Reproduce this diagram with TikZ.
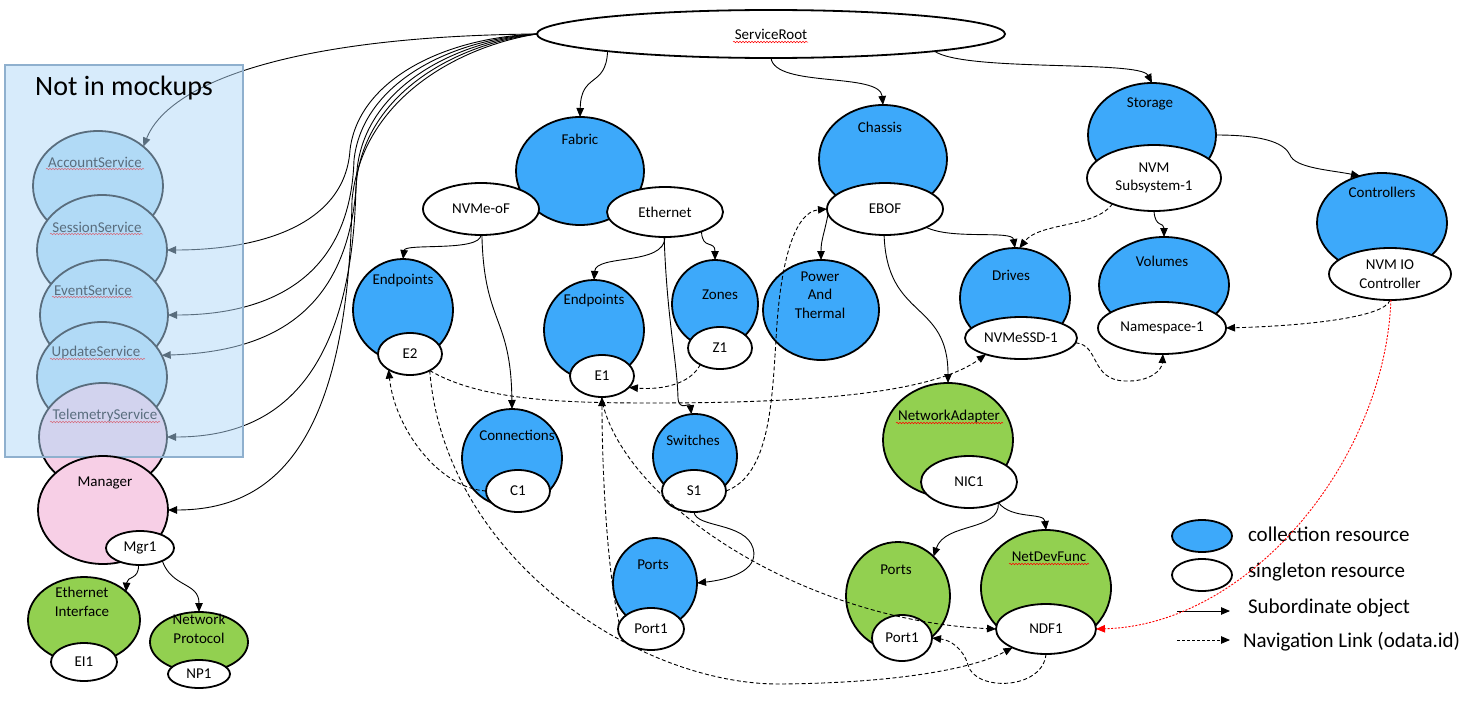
\documentclass[tikz,border=0pt]{standalone}
\usepackage{fontspec}
\setmainfont{Carlito}
\usetikzlibrary{arrows.meta,shapes.geometric,decorations.pathmorphing}
\definecolor{cblue}{RGB}{61,169,250}
\definecolor{cgreen}{RGB}{146,208,80}
\definecolor{cpink}{RGB}{247,207,230}
\definecolor{svcblue}{RGB}{180,222,246}
\definecolor{ovl}{RGB}{176,215,247}
\definecolor{ovlborder}{RGB}{143,176,206}
\begin{document}
\begin{tikzpicture}[x=1pt,y=-1pt,
  >={Triangle[length=9pt,width=7.5pt]},
  every node/.style={inner sep=0pt,outer sep=0pt},
  sz/.style 2 args={minimum width=#1pt,minimum height=#2pt},
  nf/.style={font=\fontsize{15}{18.5}\selectfont},
  lbl/.style={nf,align=center},
  coll/.style={ellipse,draw,line width=1.8pt,fill=cblue},
  svc/.style={ellipse,draw,line width=1.8pt,fill=svcblue},
  sing/.style={ellipse,draw,line width=1.8pt,fill=white,nf,align=center},
  sub/.style={->,line width=0.9pt},
  nav/.style={->,line width=0.9pt,dash pattern=on 4pt off 2.5pt},
  spell/.style={red,line width=0.5pt,decorate,decoration={snake,amplitude=0.8pt,segment length=3pt}},
  leg/.style={font=\fontsize{21}{25}\selectfont}]
\useasboundingbox (0,0) rectangle (1478,720);

% ---------- services (not in mockups) ----------
\node[svc,sz={130}{110}] (acct) at (98,186) {};
\node[lbl] (acctT) at (95,162) {AccountService};
\draw[spell] (46,169) -- (144,169);
\node[svc,sz={130}{110}] (sess) at (102,250) {};
\node[lbl] (sessT) at (97,227) {SessionService};
\draw[spell] (50,234) -- (143,234);
\node[svc,sz={128}{110}] (evt) at (104,315) {};
\node[lbl] (evtT) at (93,290) {EventService};
\draw[spell] (52,297) -- (133,297);
\node[svc,sz={130}{110}] (upd) at (102,377) {};
\node[lbl] (updT) at (96,352) {UpdateService};
\draw[spell] (50,359) -- (145,359);
\node[svc,fill=cpink,sz={128}{108}] (tele) at (103,437) {};
\node[lbl] (teleT) at (105,415) {TelemetryService};
\draw[spell] (50,422) -- (160,422);

% ---------- ServiceRoot ----------
\node[sing,sz={468}{48}] (sr) at (771,34) {ServiceRoot};
\draw[spell] (733,42) -- (808,42);

% edges into the box
\draw[sub] (sr.west) .. controls (300,36) and (170,80) .. (acct.41);
\draw[sub] (sr.west) .. controls (440,38) and (358,82) .. (350,150) .. controls (345,225) and (260,250) .. (sess.east);
\draw[sub] (sr.west) .. controls (445,40) and (362,86) .. (354,160) .. controls (350,285) and (260,315) .. (evt.east);
\draw[sub] (sr.west) .. controls (450,42) and (365,90) .. (357,170) .. controls (353,320) and (262,352) .. (upd.20);
\draw[sub] (sr.west) .. controls (455,44) and (364,94) .. (356,185) .. controls (352,395) and (262,437) .. (tele.east);

% overlay box
\fill[ovl,fill opacity=0.51] (5,65) rectangle (243,457);
\draw[ovlborder,line width=1.5pt] (5,65) rectangle (243,457);
\node[font=\fontsize{28}{32}\selectfont] (nim) at (124,88) {Not in mockups};

% ---------- Manager ----------
\node[ellipse,draw,line width=1.8pt,fill=cpink,sz={130}{108}] (mgr) at (103,510) {};
\node[lbl] (mgrT) at (105,483) {Manager};
\node[sing,sz={68}{34}] (mgr1) at (140,548) {Mgr1};
\node[coll,fill=cgreen,sz={112}{86}] (ei) at (84,620) {};
\node[lbl] (eiT) at (82,602) {Ethernet\\Interface};
\node[sing,sz={66}{38}] (ei1) at (84,662) {EI1};
\node[coll,fill=cgreen,sz={98}{60}] (np) at (199,642) {};
\node[lbl] (npT) at (199,629) {Network\\Protocol};
\node[sing,sz={62}{28}] (np1) at (199,674) {NP1};

% ---------- Fabric ----------
\node[coll,sz={128}{108}] (fabric) at (580,171) {};
\node[lbl] (fabricT) at (580,139) {Fabric};
\node[sing,sz={116}{52}] (nvmeof) at (481,209) {NVMe-oF};
\node[sing,sz={116}{50}] (eth) at (665,212) {Ethernet};
\node[coll,sz={100}{102}] (ep2) at (403,310) {};
\node[lbl] (ep2T) at (403,280) {Endpoints};
\node[sing,sz={64}{42}] (e2) at (410,354) {E2};
\node[coll,sz={100}{100}] (ep1) at (594,330) {};
\node[lbl] (ep1T) at (594,300) {Endpoints};
\node[sing,sz={64}{42}] (e1) at (602,376) {E1};
\node[coll,sz={86}{88}] (zones) at (715,304) {};
\node[lbl] (zonesT) at (720,295) {Zones};
\node[sing,sz={64}{42}] (z1) at (720,348) {Z1};
\node[coll,sz={100}{98}] (conn) at (512,458) {};
\node[lbl] (connT) at (517,435) {Connections};
\node[sing,sz={64}{42}] (c1) at (518,491) {C1};
\node[coll,sz={84}{84}] (sw) at (695,456) {};
\node[lbl] (swT) at (693,440) {Switches};
\node[sing,sz={64}{42}] (s1) at (694,491) {S1};
\node[coll,sz={84}{90}] (portsB) at (655,583) {};
\node[lbl] (portsBT) at (653,565) {Ports};
\node[sing,sz={66}{42}] (port1B) at (651,629) {Port1};

% ---------- Chassis ----------
\node[coll,sz={128}{108}] (chassis) at (883,159) {};
\node[lbl] (chassisT) at (880,127) {Chassis};
\node[sing,sz={116}{52}] (ebof) at (885,209) {EBOF};
\node[coll,sz={116}{100}] (pt) at (821,310) {};
\node[lbl] (ptT) at (820,295) {Power\\And\\Thermal};
\node[coll,sz={110}{100}] (drives) at (1015,298) {};
\node[lbl] (drivesT) at (1011,275) {Drives};
\node[sing,sz={112}{42}] (ssd) at (1021,338) {NVMeSSD-1};
\node[coll,fill=cgreen,sz={130}{114}] (na) at (948,440) {};
\node[lbl] (naT) at (949,416) {NetworkAdapter};
\draw[spell] (896,423) -- (1003,423);
\node[sing,sz={96}{52}] (nic1) at (969,482) {NIC1};
\node[coll,fill=cgreen,sz={104}{108}] (portsG) at (898,596) {};
\node[lbl] (portsGT) at (896,570) {Ports};
\node[sing,sz={60}{46}] (port1G) at (902,638) {Port1};
\node[coll,fill=cgreen,sz={130}{116}] (ndf) at (1046,588) {};
\node[lbl] (ndfT) at (1049,557) {NetDevFunc};
\draw[spell] (1009,564) -- (1089,564);
\node[sing,sz={100}{50}] (ndf1) at (1046,629) {NDF1};

% ---------- Storage ----------
\node[coll,sz={128}{104}] (storage) at (1152,135) {};
\node[lbl] (storageT) at (1150,104) {Storage};
\node[sing,sz={134}{66}] (nvmsub) at (1154,178) {NVM\\Subsystem-1};
\node[coll,sz={130}{96}] (volumes) at (1164,285) {};
\node[lbl] (volumesT) at (1162,261) {Volumes};
\node[sing,sz={128}{52}] (ns) at (1162,328) {Namespace-1};
\node[coll,sz={130}{100}] (ctrls) at (1382,223) {};
\node[lbl] (ctrlsT) at (1382,192) {Controllers};
\node[sing,sz={122}{52}] (nvmio) at (1390,274) {NVM IO\\Controller};

% ---------- legend ----------
\node[coll,sz={60}{32}] (lc) at (1202,536) {};
\node[sing,sz={60}{32}] (ls) at (1202,575) {};
\node[leg,anchor=west] (lct) at (1248,534) {collection resource};
\node[leg,anchor=west] (lst) at (1248,572) {singleton resource};
\coordinate (la1) at (1177,611);
\coordinate (la2) at (1230,611);
\draw[sub] (la1) -- (la2);
\node[leg,anchor=west] (lsub) at (1248,608) {Subordinate object};
\coordinate (lb1) at (1177,640);
\coordinate (lb2) at (1230,640);
\draw[->,line width=0.9pt,dash pattern=on 3pt off 2pt] (lb1) -- (lb2);
\node[leg,anchor=west] (lnav) at (1243,642) {Navigation Link (odata.id)};

% ---------- subordinate edges ----------
\draw[sub] (sr.west) .. controls (460,46) and (362,98) .. (352,200) .. controls (348,450) and (270,510) .. (mgr.east);
\draw[sub] (sr.186) .. controls (606,88) and (581,72) .. (fabric.north);
\draw[sub] (sr.south) .. controls (775,88) and (880,72) .. (chassis.north);
\draw[sub] (sr.-6) .. controls (965,72) and (1140,60) .. (storage.north);
\draw[sub] (mgr1.265) .. controls (139,580) and (127,576) .. (ei.34);
\draw[sub] (mgr1.-30) .. controls (172,588) and (199,582) .. (np.north);
\draw[sub] (nvmeof.south) .. controls (480,252) and (405,243) .. (ep2.north);
\draw[sub] (nvmeof.272) .. controls (484,325) and (511,315) .. (conn.north);
\draw[sub] (eth.south) .. controls (665,266) and (596,254) .. (ep1.north);
\draw[sub] (eth.-28) .. controls (702,250) and (715,240) .. (zones.north);
\draw[sub] (eth.268) .. controls (667,320) and (677,360) .. (678,398) .. controls (679,412) and (690,402) .. (sw.95);
\draw[sub] (s1.south) .. controls (696,528) and (745,522) .. (753,548) .. controls (760,572) and (725,580) .. (portsB.east);
\draw[sub] (ebof.185) .. controls (824,235) and (821,240) .. (pt.north);
\draw[sub] (ebof.-24) .. controls (952,240) and (1012,230) .. (drives.north);
\draw[sub] (ebof.268) .. controls (887,320) and (948,300) .. (na.north);
\draw[sub] (nvmsub.south) .. controls (1155,228) and (1164,222) .. (volumes.north);
\draw[sub] (storage.east) .. controls (1270,135) and (1285,145) .. (1290,155) .. controls (1295,168) and (1330,170) .. (ctrls.115);
\draw[sub] (nic1.-35) .. controls (1000,532) and (945,522) .. (portsG.48);
\draw[sub] (nic1.-35) .. controls (1012,520) and (1044,512) .. (ndf.north);

% ---------- navigation links ----------
\draw[nav] (c1.west) .. controls (440,488) and (395,430) .. (e2.216);
\draw[nav] (e2.-40) .. controls (480,400) and (560,403) .. (650,403) .. controls (800,403) and (930,395) .. (ssd.205);
\draw[nav] (e2.-40) .. controls (445,560) and (640,685) .. (780,684) .. controls (900,683) and (975,668) .. (ndf1.209);
\draw[nav] (z1.220) .. controls (690,385) and (660,390) .. (e1.-23);
\draw[nav] (port1B.170) .. controls (607,570) and (602,470) .. (e1.south);
\draw[nav] (e1.-92) .. controls (620,500) and (800,620) .. (ndf1.west);
\draw[nav] (s1.east) .. controls (770,475) and (772,400) .. (776,340) .. controls (780,260) and (795,212) .. (ebof.west);
\draw[nav] (nvmsub.212) .. controls (1095,228) and (1040,222) .. (drives.85);
\draw[nav] (ssd.-5) .. controls (1100,345) and (1090,380) .. (1125,381) .. controls (1150,382) and (1162,370) .. (ns.-88);
\draw[nav] (nvmio.south) .. controls (1385,318) and (1300,326) .. (ns.east);
\draw[nav] (ndf1.south) .. controls (1043,690) and (975,692) .. (968,665) .. controls (963,648) and (950,640) .. (port1G.east);
\draw[->,red,line width=0.9pt,dash pattern=on 2pt off 1.5pt] (nvmio.-88) .. controls (1385,460) and (1250,625) .. (ndf1.east);
\end{tikzpicture}
\end{document}
